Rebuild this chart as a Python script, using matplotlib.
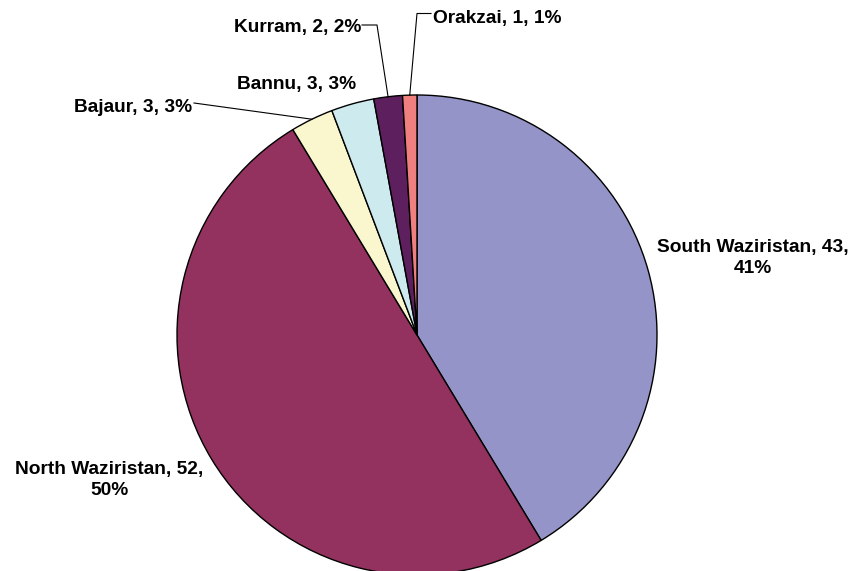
import matplotlib
matplotlib.use("Agg")
import matplotlib.pyplot as plt
import numpy as np

categories = ["South Waziristan", "North Waziristan", "Bajaur", "Bannu", "Kurram", "Orakzai"]
values = [43, 52, 3, 3, 2, 1]
colors = ["#9494C8", "#93325E", "#FAF7CF", "#CDEBEE", "#5E1F5E", "#F08080"]

W, H = 854, 571
CX, CY, R = 417, 335, 240  # pixel center / radius of pie

fig = plt.figure(figsize=(W / 100, H / 100), dpi=100)
ax = fig.add_axes([0, 0, 1, 1])

wedges, _ = ax.pie(values, colors=colors, startangle=90, counterclock=False, radius=1,
                   wedgeprops=dict(edgecolor="black", linewidth=1.0))
for w in wedges:
    w.set_clip_on(False)

ax.set_aspect("auto")
ax.set_xlim(-CX / R, (W - CX) / R)
ax.set_ylim(-(H - CY) / R, CY / R)
ax.axis("off")

def P(px, py):
    return ((px - CX) / R, (CY - py) / R)

total = sum(values)
labels = [f"{c}, {v}, {round(100 * v / total):.0f}%" for c, v in zip(categories, values)]

font = dict(family="Liberation Sans", weight="bold", fontsize=13.8, color="black")

# label layout: (anchor px, ha, wrapped?, leader start px, leader elbow px)
layout = {
    "South Waziristan": ((753, 258), "center", True, None, None),
    "North Waziristan": ((109, 480), "center", True, None, None),
    "Bajaur": ((192, 112), "right", False, (194, 103), None),
    "Bannu": ((297, 89), "center", False, None, None),
    "Kurram": ((361, 32), "right", False, (362, 25), (377, 25)),
    "Orakzai": ((433, 23), "left", False, (431, 13.5), (417, 13.5)),
}

cum = np.cumsum([0] + values)
for i, (c, lab) in enumerate(zip(categories, labels)):
    (px, py), ha, wrap, start, elbow = layout[c]
    if wrap:
        parts = lab.rsplit(", ", 1)
        text = parts[0] + ",\n" + parts[1]
        ax.text(*P(px, py), text, ha=ha, va="center", multialignment="center",
                linespacing=1.25, **font)
    else:
        ax.text(*P(px, py), lab, ha=ha, va="baseline", **font)
    if start is None:
        continue
    mid = np.deg2rad(90 - 360 * (cum[i] + values[i] / 2) / total)
    tip = (np.cos(mid), np.sin(mid))
    pts = [P(*start)]
    if elbow is not None:
        pts.append(P(*elbow))
    pts.append(tip)
    xs, ys = zip(*pts)
    ax.plot(xs, ys, color="black", lw=0.8)

fig.savefig("out.png", dpi=100)
